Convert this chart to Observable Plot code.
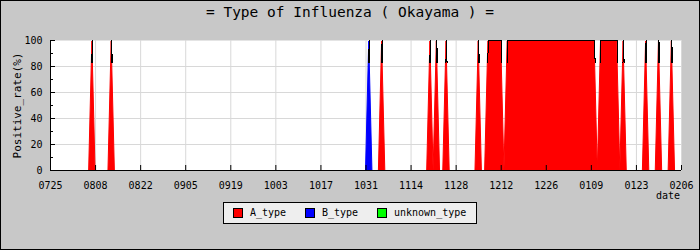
<!DOCTYPE html>
<html>
<head>
<meta charset="utf-8">
<script src="https://cdn.jsdelivr.net/npm/d3@7"></script>
<script src="https://cdn.jsdelivr.net/npm/@observablehq/plot@0.6"></script>
<style>
  body { margin: 0; background: #c8c8c8; }
  #chart { position: relative; width: 700px; height: 250px; background: #c8c8c8; overflow: hidden;
           font-family: "DejaVu Sans Mono", monospace; color: #000; }
  #title { position: absolute; top: 2px; left: 0; width: 700px; text-align: center;
           font-size: 14.5px; line-height: 20px; }
  #plot { position: absolute; top: 0; left: 0; }
  #xlabel { position: absolute; right: 20px; top: 189px; font-size: 10px; line-height: 14px; }
  #legend { position: absolute; left: 223px; top: 202px; width: 254px; height: 22px; box-sizing: border-box;
            border: 1px solid #000; background: #eeeeee; font-size: 10px; }
  #legend .sw { position: absolute; top: 5px; width: 10px; height: 10px; box-sizing: border-box; border: 1px solid #000; }
  #legend .lb { position: absolute; top: 0; height: 20px; line-height: 20px; }
  #border { position: absolute; left: 0; top: 0; width: 700px; height: 250px; box-sizing: border-box;
            border: 1px solid #000; pointer-events: none; }
</style>
</head>
<body>
<div id="chart">
  <div id="title">= Type of Influenza ( Okayama ) =</div>
  <div id="plot"></div>
  <div id="xlabel">date</div>
  <div id="legend"></div>
  <div id="border"></div>
</div>
<script>
// Season range and the x-axis tick labels (MMDD, every 14 days)
const startDate = "2023-07-25";
const endDate = "2024-02-06";
const tickLabels = ["0725", "0808", "0822", "0905", "0919", "1003", "1017", "1031",
                    "1114", "1128", "1212", "1226", "0109", "0123", "0206"];

// Positive-rate runs per type: [first day, last day, rate %]; other days are 0
const aTypeRuns = [
  ["2023-08-07", "2023-08-07", 100],
  ["2023-08-13", "2023-08-13", 100],
  ["2023-11-05", "2023-11-05", 100],
  ["2023-11-20", "2023-11-20", 100],
  ["2023-11-22", "2023-11-22", 100],
  ["2023-11-25", "2023-11-25", 100],
  ["2023-12-05", "2023-12-05", 100],
  ["2023-12-08", "2023-12-12", 100],
  ["2023-12-14", "2024-01-10", 100],
  ["2024-01-12", "2024-01-17", 100],
  ["2024-01-19", "2024-01-19", 100],
  ["2024-01-26", "2024-01-26", 100],
  ["2024-01-30", "2024-01-30", 100],
  ["2024-02-03", "2024-02-03", 100]
];
const bTypeRuns = [
  ["2023-11-01", "2023-11-01", 100]
];
const unknownTypeRuns = [];

const typeNames = ["A_type", "B_type", "unknown_type"];
const typeColors = ["#ff0000", "#0000ff", "#00ff00"];
const typeRuns = [aTypeRuns, bTypeRuns, unknownTypeRuns];

const yMajorTicks = [0, 20, 40, 60, 80, 100];
const yMinorTicks = [10, 30, 50, 70, 90];
const yGridLines = [20, 40, 60, 80];

const parse = d3.utcParse("%Y-%m-%d");
const start = parse(startDate);
const end = parse(endDate);
const days = d3.utcDay.range(start, d3.utcDay.offset(end, 1));

// tick dates from the MMDD labels (July–December belong to the start year)
const tickDates = tickLabels.map(s => {
  const m = +s.slice(0, 2), d = +s.slice(2);
  const y = m >= 7 ? start.getUTCFullYear() : end.getUTCFullYear();
  return new Date(Date.UTC(y, m - 1, d));
});

function rateOn(runs, day) {
  for (const [a, b, r] of runs) {
    if (day >= parse(a) && day <= parse(b)) return r;
  }
  return 0;
}

// one daily series per type; the types never overlap on a day
const seriesByType = typeNames.map((name, i) =>
  days.map(day => ({date: day, type: name, rate: rateOn(typeRuns[i], day)})));
const totals = days.map(day => ({date: day, rate: d3.sum(typeRuns, runs => rateOn(runs, day))}));

// fills drawn last-type-first so A_type sits on top
const areaMarks = typeNames.map((name, i) =>
  Plot.areaY(seriesByType[i], {x: "date", y: "rate", fill: typeColors[i], stroke: typeColors[i],
                               strokeWidth: 1, curve: "linear", dy: 1, clip: true})).reverse();

const chart = Plot.plot({
  width: 700,
  height: 200,
  marginLeft: 50,
  marginRight: 19,
  marginTop: 40,
  marginBottom: 30,
  style: {background: "transparent", fontFamily: "DejaVu Sans Mono, monospace", fontSize: "10px", color: "#000"},
  x: {type: "utc", domain: [start, end]},
  y: {domain: [0, 100]},
  marks: [
    Plot.frame({fill: "white", stroke: null}),
    Plot.gridX(tickDates, {stroke: "#d8d8d8", strokeOpacity: 1}),
    Plot.gridY(yGridLines, {stroke: "#d8d8d8", strokeOpacity: 1}),
    ...areaMarks,
    // total outline, kept black only near the 100% line
    Plot.lineY(totals, {x: "date", y: "rate", stroke: "url(#outlineTop)", strokeWidth: 1, shapeRendering: "crispEdges"}),
    Plot.tickX(tickDates, {x: d => d, insetTop: 125, stroke: "#000"}),
    Plot.tickY(yMajorTicks, {y: d => d, insetRight: 626, stroke: "#000"}),
    Plot.tickY(yMinorTicks, {y: d => d, insetRight: 628, stroke: "#000"}),
    Plot.ruleY([0], {stroke: "#000"}),
    Plot.ruleX([start], {stroke: "#000"}),
    Plot.axisX({ticks: tickDates, tickFormat: (d, i) => tickLabels[i], tickSize: 0, tickPadding: 11, label: null}),
    Plot.axisY({ticks: yMajorTicks, tickSize: 0, tickPadding: 8, label: null}),
    Plot.axisY({ticks: [], label: "Positive_rate(%)", labelAnchor: "center", labelArrow: "none",
                labelOffset: 37, fontSize: 11})
  ]
});

// vertical gradient for the outline
const ns = "http://www.w3.org/2000/svg";
const defs = document.createElementNS(ns, "defs");
const grad = document.createElementNS(ns, "linearGradient");
grad.setAttribute("id", "outlineTop");
grad.setAttribute("gradientUnits", "userSpaceOnUse");
grad.setAttribute("x1", "0"); grad.setAttribute("x2", "0");
grad.setAttribute("y1", "40"); grad.setAttribute("y2", "170");
[[0, 1], [0.17, 1], [0.17, 0], [1, 0]].forEach(([o, a]) => {
  const stop = document.createElementNS(ns, "stop");
  stop.setAttribute("offset", o);
  stop.setAttribute("stop-color", "#000");
  stop.setAttribute("stop-opacity", a);
  grad.appendChild(stop);
});
defs.appendChild(grad);
chart.insertBefore(defs, chart.firstChild);
document.getElementById("plot").appendChild(chart);

// legend below the plot
const legend = document.getElementById("legend");
const legendSwatchX = [9, 81, 153];
typeNames.forEach((name, i) => {
  const sw = document.createElement("div");
  sw.className = "sw";
  sw.style.left = legendSwatchX[i] + "px";
  sw.style.background = typeColors[i];
  legend.appendChild(sw);
  const lb = document.createElement("div");
  lb.className = "lb";
  lb.style.left = (legendSwatchX[i] + 17) + "px";
  lb.textContent = name;
  legend.appendChild(lb);
});
</script>
</body>
</html>
